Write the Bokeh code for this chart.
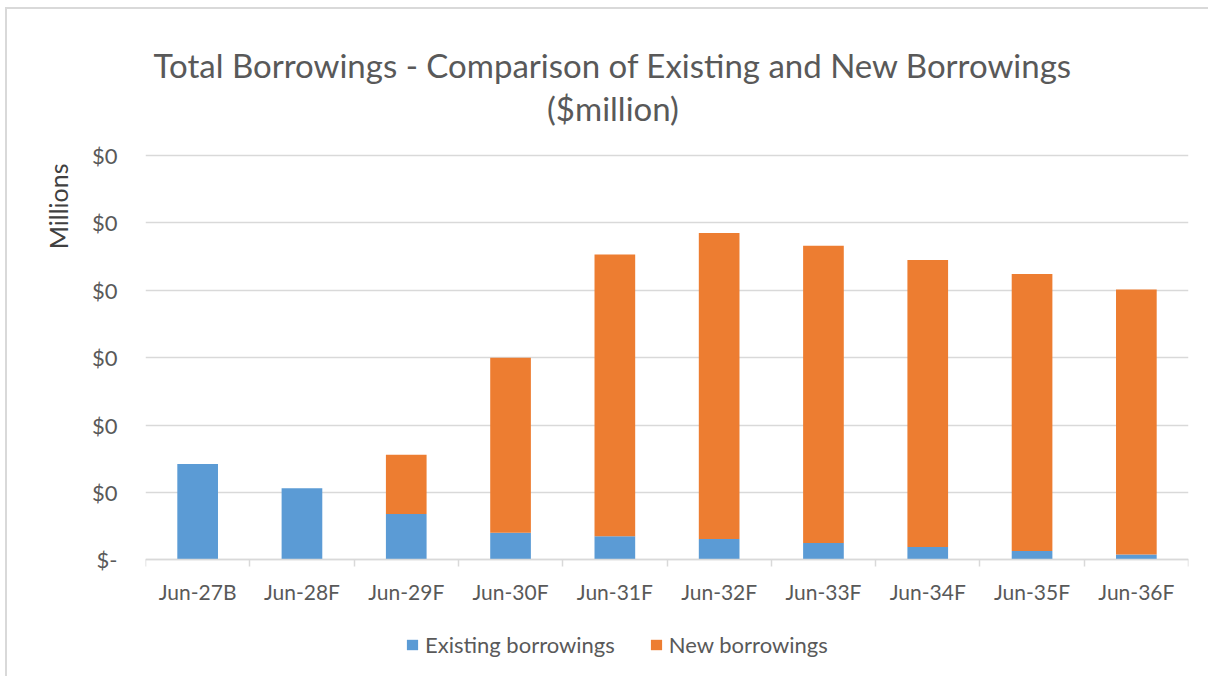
from bokeh.plotting import figure
from bokeh.models import (ColumnDataSource, Range1d, FixedTicker, CustomJSTickFormatter,
                          Legend, LegendItem, Title, Label)
from bokeh.embed import file_html
from bokeh.resources import INLINE

categories = ["Jun-27B", "Jun-28F", "Jun-29F", "Jun-30F", "Jun-31F",
              "Jun-32F", "Jun-33F", "Jun-34F", "Jun-35F", "Jun-36F"]
existing = [0.142, 0.106, 0.068, 0.040, 0.035, 0.031, 0.025, 0.019, 0.013, 0.008]
new = [0.0, 0.0, 0.088, 0.260, 0.418, 0.454, 0.441, 0.426, 0.411, 0.393]
y_ticks = [0.0, 0.1, 0.2, 0.3, 0.4, 0.5, 0.6]
series_names = ["Existing borrowings", "New borrowings"]
colors = ["#5B9BD5", "#ED7D31"]
title_lines = ["Total Borrowings - Comparison of Existing and New Borrowings", "($million)"]

FONT = "Lato"
TXT = "#595959"

x_pos = [i + 0.5 for i in range(len(categories))]
source = ColumnDataSource(data=dict(x=x_pos, cat=categories, existing=existing, new=new))

# the frame covers the title area above and the legend area below;
# the category axis is pinned at y = 0
p = figure(width=1203, height=669, output_backend="svg", toolbar_location=None,
           x_range=Range1d(0, len(categories)), y_range=Range1d(-0.1643, 0.8167),
           min_border_left=138, min_border_right=22, min_border_top=0, min_border_bottom=8)
p.title = None
p.outline_line_color = None
p.background_fill_color = "white"
p.border_fill_color = "white"
p.styles = {"margin-left": "5px", "margin-top": "7px",
            "border-left": "2px solid #D9D9D9", "border-top": "2px solid #D9D9D9"}

renderers = p.vbar_stack(["existing", "new"], x="x", width=0.39, source=source,
                         color=colors, line_color=None)

# grid
p.xgrid.grid_line_color = None
p.ygrid.grid_line_color = "#D9D9D9"
p.ygrid.grid_line_width = 1.3
p.ygrid.ticker = FixedTicker(ticks=y_ticks)

# y axis
p.yaxis.ticker = FixedTicker(ticks=y_ticks)
p.yaxis.formatter = CustomJSTickFormatter(code="return tick == 0 ? '$-' : '$' + Math.floor(tick).toString();")
p.yaxis.axis_line_color = None
p.yaxis.major_tick_line_color = None
p.yaxis.minor_tick_line_color = None
p.yaxis.major_tick_out = 0
p.yaxis.major_tick_in = 0
p.yaxis.major_label_standoff = 28
p.yaxis.major_label_text_font = FONT
p.yaxis.major_label_text_font_size = "22px"
p.yaxis.major_label_text_color = TXT

# x axis pinned at zero
label_map = {x: c for x, c in zip(x_pos, categories)}
xa = p.xaxis[0]
xa.fixed_location = 0
xa.ticker = FixedTicker(ticks=x_pos, minor_ticks=list(range(len(categories) + 1)))
xa.major_label_overrides = label_map
xa.axis_line_color = "#D9D9D9"
xa.axis_line_width = 1.5
xa.major_tick_line_color = None
xa.major_tick_out = 0
xa.major_tick_in = 0
xa.minor_tick_line_color = "#D9D9D9"
xa.minor_tick_line_width = 1.5
xa.minor_tick_out = 7
xa.minor_tick_in = 0
xa.major_label_standoff = 12
xa.major_label_text_font = FONT
xa.major_label_text_font_size = "21px"
xa.major_label_text_color = TXT

# y-axis title near the top of the left side
p.add_layout(Title(text="Millions", align="right", offset=154, standoff=31,
                   text_font=FONT, text_font_size="25px", text_font_style="normal",
                   text_color="#404040"), "left")

# chart title, two centred lines
p.add_layout(Label(x=4.482, y=0.7336, text=title_lines[0], text_align="center",
                   text_baseline="alphabetic", text_font=FONT, text_font_size="33px",
                   text_color=TXT))
p.add_layout(Label(x=4.482, y=0.6698, text=title_lines[1], text_align="center",
                   text_baseline="alphabetic", text_font=FONT, text_font_size="33px",
                   text_color=TXT))

# legend
legend = Legend(items=[LegendItem(label=series_names[i], renderers=[renderers[i]]) for i in range(2)],
                orientation="horizontal", location=(260, 12),
                glyph_width=14, glyph_height=13, label_standoff=6, spacing=34,
                padding=0, margin=0, border_line_color=None, background_fill_alpha=0,
                label_text_font=FONT, label_text_font_size="22px", label_text_color=TXT)
p.add_layout(legend, "center")

open("out.html", "w").write(file_html(p, INLINE))
